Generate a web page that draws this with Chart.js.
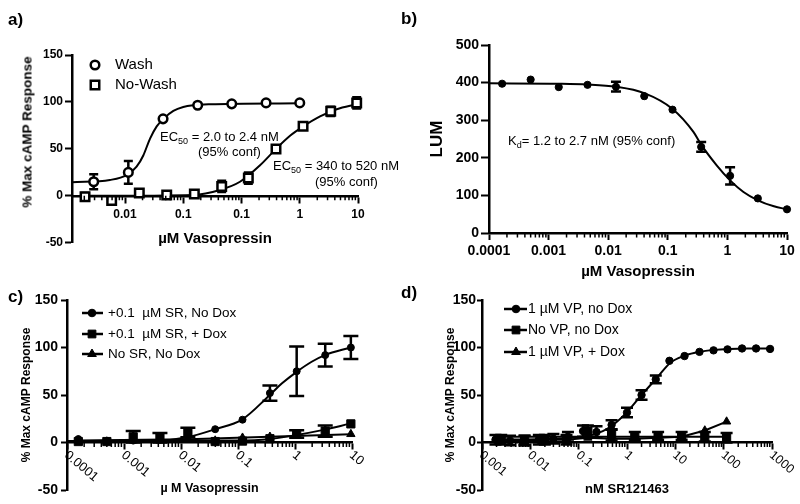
<!DOCTYPE html>
<html>
<head>
<meta charset="utf-8">
<script src="https://cdn.jsdelivr.net/npm/chart.js@4/dist/chart.umd.min.js"></script>
<style>
  body { margin: 0; width: 800px; height: 504px; position: relative; background: #fff; overflow: hidden;
         font-family: "Liberation Sans", Arial, sans-serif; color: #000; }
  canvas { position: absolute; }
  .tag { position: absolute; font-weight: bold; font-size: 17px; line-height: 20px; }
  .note { position: absolute; font-size: 13px; line-height: 16px; white-space: nowrap; }
  .note sub { font-size: 9px; vertical-align: -3px; line-height: 0; }
  .ytitle { position: absolute; font-weight: bold; font-size: 13.5px; white-space: nowrap;
            transform: translate(-50%, -50%) rotate(-90deg); }
</style>
</head>
<body>
<canvas id="pa" width="400" height="252" style="left:0;top:0"></canvas>
<canvas id="pb" width="400" height="281" style="left:400px;top:0"></canvas>
<canvas id="pc" width="400" height="224" style="left:0;top:280px"></canvas>
<canvas id="pd" width="400" height="224" style="left:400px;top:280px"></canvas>

<div class="tag" style="left:8px;top:10px">a)</div>
<div class="tag" style="left:401px;top:9px">b)</div>
<div class="tag" style="left:8px;top:287px">c)</div>
<div class="tag" style="left:401px;top:283px">d)</div>

<div class="ytitle" style="left:27px;top:132px">% Max cAMP Response</div>
<div class="note" style="left:160px;top:129px">EC<sub>50</sub> = 2.0 to 2.4 nM</div>
<div class="note" style="left:198px;top:144px">(95% conf)</div>
<div class="note" style="left:273px;top:158px">EC<sub>50</sub> = 340 to 520 nM</div>
<div class="note" style="left:315px;top:174px">(95% conf)</div>
<div class="note" style="left:508px;top:133px">K<sub>d</sub>= 1.2 to 2.7 nM (95% conf)</div>

<script>
const FONT = '"Liberation Sans", Arial, sans-serif';

// a) cAMP after wash / no wash, x in uM
const aNames = ['Wash', 'No-Wash'];
const washX = [0.00029, 0.00114, 0.0045, 0.0177, 0.068, 0.264, 1];
const washY = [15, 25, 82, 96.5, 98, 99, 99];
const washErr = [8, 12, 0, 0, 0, 0, 0];
const washFitX = [0.000123, 0.00055, 0.00107, 0.00158, 0.00206, 0.00269, 0.0035, 0.00454, 0.00676, 0.01, 0.0149, 0.0288, 1];
const washFitY = [14.4, 16.9, 22, 31, 43, 61, 74, 82, 90.5, 94.7, 96.5, 97.5, 98.6];
const noWashX = [0.000206, 0.00059, 0.00176, 0.0052, 0.0155, 0.0457, 0.131, 0.391, 1.14, 3.4, 9.5];
const noWashY = [-1, -5, 3, 1, 2, 10, 19, 50, 74, 90, 99];
const noWashErr = [4, 4, 0, 0, 0, 6, 6, 0, 0, 5, 6];
const noWashFitX = [0.0002, 0.0149, 0.0428, 0.0942, 0.208, 0.391, 0.681, 1.15, 2.23, 4.31, 9.5];
const noWashFitY = [0, 1, 6.3, 15, 32.6, 50, 64, 74, 84.6, 92.3, 97.6];
const aTicks = [0.001, 0.01, 0.1, 1, 10];
const aTickLabels = ['0.01', '0.1', '0.1', '1', '10'];

// b) LUM binding curve, x in uM
const lumX = [0.000166, 0.0005, 0.00148, 0.0045, 0.0135, 0.0403, 0.12, 0.363, 1.11, 3.24, 10];
const lumY = [397, 408, 388, 394, 389, 364, 328, 229, 152, 92, 63];
const lumErr = [0, 0, 0, 0, 13, 0, 0, 13, 23, 0, 0];
const lumFitX = [0.0001, 0.00148, 0.0045, 0.0135, 0.0403, 0.12, 0.269, 0.363, 0.661, 1.11, 1.86, 3.24, 6.03, 10];
const lumFitY = [398, 397, 395, 389, 372, 330, 269, 235, 180, 140, 109, 87, 71, 63];
const bTicks = [0.0001, 0.001, 0.01, 0.1, 1, 10];
const bTickLabels = ['0.0001', '0.001', '0.01', '0.1', '1', '10'];

// c) SR antagonist +/- Dox, x in uM
const cNames = ['+0.1  \u00b5M SR, No Dox', '+0.1  \u00b5M SR, + Dox', 'No SR, No Dox'];
const cX = [0.000158, 0.0005, 0.00145, 0.00427, 0.0132, 0.0398, 0.12, 0.363, 1.07, 3.39, 9.55];
const srNoDoxY = [3.6, 1.5, 2, 3, 6, 14, 24, 52, 75, 92, 100];
const srNoDoxErr = [0, 0, 0, 0, 0, 0, 0, 8, 26, 12, 12];
const srDoxY = [1, 1, 6, 5, 10.5, 1, 1.5, 4, 9, 12, 19.6];
const srDoxErr = [0, 0, 6, 5, 5, 0, 0, 0, 4, 6, 0];
const noSrY = [2, 1, 2, 2, 3, 2, 5, 6, 7, 8, 8.8];
const srNoDoxFitX = [0.0001, 0.001, 0.00407, 0.0129, 0.0398, 0.117, 0.347, 0.585, 1.07, 1.96, 3.36, 9.48];
const srNoDoxFitY = [1.5, 1.8, 2.1, 5.6, 14, 24, 49, 62, 74.4, 85, 92, 100];
const srDoxFitX = [0.0001, 0.1, 0.347, 1.08, 3.16, 8.9];
const srDoxFitY = [1.5, 2, 3.5, 8, 13.3, 19.6];
const noSrFitX = [0.00016, 0.0135, 9.55];
const noSrFitY = [2, 3.5, 8.8];
const cTicks = [0.0001, 0.001, 0.01, 0.1, 1, 10];
const cTickLabels = ['0.0001', '0.001', '0.01', '0.1', '1', '10'];

// d) SR121463 dose, x in nM
const dNames = ['1 \u00b5M VP, no Dox', 'No VP, no Dox', '1 \u00b5M VP, + Dox'];
const vpX = [0.0019, 0.0038, 0.0076, 0.015, 0.030, 0.060, 0.123, 0.234, 0.48, 1.0, 2.0, 3.94, 7.55, 15.5, 31.6, 61.7, 120, 240, 468, 912];
const vpY = [3, 2, 2, 3, 4, 6, 12, 11, 18.5, 31.5, 50, 66.4, 86, 91, 95.4, 97, 98, 99, 99, 98.5];
const vpErr = [5, 5, 5, 5, 5, 5, 6, 6, 5, 5, 5, 4, 0, 0, 0, 0, 0, 0, 0, 0];
const vpFitX = [0.0019, 0.0316, 0.158, 0.316, 0.5, 1, 2, 4, 7.9, 15.8, 31.6, 63, 126, 316, 912];
const vpFitY = [3, 4, 7, 12, 18, 32, 50, 67, 84, 91.5, 95.5, 97.5, 98.5, 99, 99];
const sX = [0.0025, 0.0076, 0.02, 0.056, 0.155, 0.48, 1.45, 4.4, 13.5, 40.7, 115];
const noVpY = [3, 2, 3, 3, 12, 8, 7, 7, 7, 6, 5];
const noVpErr = [5, 5, 5, 5, 6, 6, 4, 4, 4, 5, 5];
const noVpFitX = [0.0025, 115];
const noVpFitY = [6, 6];
const vpDoxY = [3, 2, 3, 3, 5, 4, 4, 5, 6, 12.6, 22];
const dTicks = [0.001, 0.01, 0.1, 1, 10, 100, 1000];
const dTickLabels = ['0.001', '0.01', '0.1', '1', '10', '100', '1000'];

Chart.defaults.font.family = FONT;
Chart.defaults.color = '#000';

function pts(xs, ys) { return xs.map((x, i) => ({x: x, y: ys[i]})); }

function markSet(xs, ys, errs, style, r, fill, bw, cap) {
  return {data: pts(xs, ys), errors: errs, capWidth: cap, showLine: false,
    pointStyle: style, pointRadius: r, pointHoverRadius: r, pointBackgroundColor: fill,
    pointBorderColor: '#000', pointBorderWidth: bw, clip: false};
}
function fitSet(xs, ys, smooth) {
  return {data: pts(xs, ys), showLine: true, borderColor: '#000', borderWidth: 2,
    pointRadius: 0, cubicInterpolationMode: smooth ? 'monotone' : 'default', tension: 0, clip: false};
}
function lineMarks(xs, ys, style, r) {
  const d = markSet(xs, ys, null, style, r, '#000', 1, 0);
  d.showLine = true; d.borderColor = '#000'; d.borderWidth = 2;
  return d;
}

const errorBars = {
  id: 'errorBars',
  beforeDatasetsDraw(chart) {
    const {ctx, scales: {x, y}} = chart;
    chart.data.datasets.forEach(ds => {
      if (!ds.errors) return;
      ctx.save();
      ctx.strokeStyle = '#000';
      ctx.lineWidth = 2.5;
      ds.data.forEach((p, i) => {
        const e = ds.errors[i];
        if (!e) return;
        const px = x.getPixelForValue(p.x);
        const y1 = y.getPixelForValue(p.y + e), y2 = y.getPixelForValue(p.y - e);
        const w = ds.capWidth / 2;
        ctx.beginPath();
        ctx.moveTo(px, y1); ctx.lineTo(px, y2);
        ctx.moveTo(px - w, y1); ctx.lineTo(px + w, y1);
        ctx.moveTo(px - w, y2); ctx.lineTo(px + w, y2);
        ctx.stroke();
      });
      ctx.restore();
    });
  }
};

function minorTicks(atZero) {
  return {
    id: 'minorTicks',
    afterDraw(chart) {
      const {ctx, scales: {x, y}, chartArea} = chart;
      const axisY = atZero ? y.getPixelForValue(0) : chartArea.bottom;
      ctx.save();
      ctx.strokeStyle = '#000';
      ctx.lineWidth = 1.5;
      ctx.beginPath();
      for (let e = Math.floor(Math.log10(x.min)); e <= Math.ceil(Math.log10(x.max)); e++) {
        for (let k = 2; k <= 9; k++) {
          const v = k * Math.pow(10, e);
          if (v <= x.min * 1.0001 || v >= x.max * 0.9999) continue;
          const px = x.getPixelForValue(v);
          ctx.moveTo(px, axisY); ctx.lineTo(px, axisY + 4.5);
        }
      }
      ctx.stroke();
      ctx.restore();
    }
  };
}

function slantLabels(values, labels, size) {
  return {
    id: 'slantLabels',
    afterDraw(chart) {
      const {ctx, scales: {x, y}} = chart;
      const axisY = y.getPixelForValue(0);
      ctx.save();
      ctx.font = size + 'px ' + FONT;
      ctx.fillStyle = '#000';
      ctx.textAlign = 'left';
      ctx.textBaseline = 'middle';
      values.forEach((v, i) => {
        ctx.save();
        ctx.translate(x.getPixelForValue(v) - 1, axisY + 11);
        ctx.rotate(40 * Math.PI / 180);
        ctx.fillText(labels[i], 0, 0);
        ctx.restore();
      });
      ctx.restore();
    }
  };
}

function keyPlugin(names, marks, layout) {
  return {
    id: 'key',
    afterDraw(chart) {
      const ctx = chart.ctx;
      ctx.save();
      ctx.font = layout.font + 'px ' + FONT;
      ctx.textBaseline = 'middle';
      ctx.strokeStyle = '#000';
      names.forEach((name, i) => {
        const yy = layout.rows[i];
        const m = marks[i];
        if (layout.line) {
          ctx.lineWidth = 2.5;
          ctx.beginPath();
          ctx.moveTo(layout.line[0], yy); ctx.lineTo(layout.line[1], yy);
          ctx.stroke();
        }
        ctx.fillStyle = m.fill;
        ctx.lineWidth = m.bw;
        Chart.helpers.drawPoint(ctx, {pointStyle: m.style, radius: m.r, borderWidth: m.bw, rotation: 0}, layout.markX, yy);
        ctx.fillStyle = '#000';
        ctx.fillText(name, layout.textX, yy);
      });
      ctx.restore();
    }
  };
}

function logX(min, max, ticks, labels, opts) {
  return Object.assign({
    type: 'logarithmic', min: min, max: max,
    afterBuildTicks: s => { s.ticks = ticks.map(v => ({value: v})); },
    ticks: {autoSkip: false, maxRotation: 0, minRotation: 0, padding: 6, color: '#000',
      font: {size: 12, weight: 'bold'}, callback: (v, i) => labels[i]},
    grid: {drawOnChartArea: false, color: '#000', tickLength: 6, tickWidth: 2},
    border: {color: '#000', width: 2.5}
  }, opts);
}
function linY(min, max, step, width, opts) {
  return Object.assign({
    min: min, max: max,
    ticks: {stepSize: step, padding: 2, color: '#000', font: {size: 14, weight: 'bold'}},
    grid: {drawOnChartArea: false, color: '#000', tickLength: 7, tickWidth: 2},
    border: {color: '#000', width: 2.5},
    afterFit: s => { s.width = width; }
  }, opts);
}
const base = {responsive: false, animation: false, events: [],
  plugins: {legend: {display: false}, tooltip: {enabled: false}}};

// ---- a)
new Chart(document.getElementById('pa'), {
  type: 'scatter',
  data: {datasets: [
    markSet(washX, washY, washErr, 'circle', 4.3, '#fff', 2.5, 9),
    markSet(noWashX, noWashY, noWashErr, 'rect', 6, '#fff', 2.5, 9),
    fitSet(washFitX, washFitY, true),
    fitSet(noWashFitX, noWashFitY, true)
  ]},
  options: Object.assign({}, base, {
    layout: {padding: {left: 0, top: 55, right: 42, bottom: 7}},
    scales: {
      x: logX(0.000123, 10, aTicks, aTickLabels, {
        position: {y: 0},
        title: {display: true, text: '\u00b5M Vasopressin', color: '#000',
          font: {size: 15, weight: 'bold'}, padding: {top: 2, bottom: 0}}
      }),
      y: linY(-50, 150, 50, 72, {
        ticks: {stepSize: 50, padding: 2, color: '#000', font: {size: 12, weight: 'bold'}}
      })
    }
  }),
  plugins: [errorBars, minorTicks(true),
    keyPlugin(aNames, [{style: 'circle', r: 4.3, fill: '#fff', bw: 2.5}, {style: 'rect', r: 6, fill: '#fff', bw: 2.5}],
      {font: 15, rows: [65, 85], markX: 95, textX: 115})]
});

// ---- b)
new Chart(document.getElementById('pb'), {
  type: 'scatter',
  data: {datasets: [
    markSet(lumX, lumY, lumErr, 'circle', 3.6, '#000', 1, 10),
    fitSet(lumFitX, lumFitY, true)
  ]},
  options: Object.assign({}, base, {
    layout: {padding: {left: 0, top: 45, right: 13, bottom: 0}},
    scales: {
      x: logX(0.0001, 10, bTicks, bTickLabels, {
        position: 'bottom',
        afterFit: s => { s.height = 48; },
        ticks: {autoSkip: false, maxRotation: 0, minRotation: 0, padding: 3, color: '#000',
          font: {size: 14, weight: 'bold'}, callback: (v, i) => bTickLabels[i]},
        grid: {drawOnChartArea: false, color: '#000', tickLength: 7, tickWidth: 2},
        title: {display: true, text: '\u00b5M Vasopressin', color: '#000',
          font: {size: 15, weight: 'bold'}, padding: {top: 0, bottom: 0}}
      }),
      y: linY(0, 500, 100, 89, {
        ticks: {stepSize: 100, padding: 2, color: '#000', font: {size: 14, weight: 'bold'}},
        grid: {drawOnChartArea: false, color: '#000', tickLength: 8, tickWidth: 2},
        title: {display: true, text: 'LUM', color: '#000', font: {size: 17, weight: 'bold'}, padding: {top: 27, bottom: 0}}
      })
    }
  }),
  plugins: [errorBars, minorTicks(false)]
});

// ---- c)
new Chart(document.getElementById('pc'), {
  type: 'scatter',
  data: {datasets: [
    markSet(cX, srNoDoxY, srNoDoxErr, 'circle', 3.5, '#000', 1, 15),
    markSet(cX, srDoxY, srDoxErr, 'rect', 5.8, '#000', 1, 15),
    markSet(cX, noSrY, null, 'triangle', 4.8, '#000', 1, 0),
    fitSet(srNoDoxFitX, srNoDoxFitY, true),
    fitSet(srDoxFitX, srDoxFitY, true),
    fitSet(noSrFitX, noSrFitY, false)
  ]},
  options: Object.assign({}, base, {
    layout: {padding: {left: 0, top: 20, right: 48, bottom: 14}},
    scales: {
      x: logX(0.0001, 10, cTicks, cTickLabels, {
        position: {y: 0},
        ticks: {display: false},
        title: {display: true, text: '\u00b5 M Vasopressin', color: '#000',
          font: {size: 12.5, weight: 'bold'}, padding: {top: 33, bottom: 0}}
      }),
      y: linY(-50, 150, 50, 67, {
        grid: {drawOnChartArea: false, color: '#000', tickLength: 6, tickWidth: 2},
        ticks: {stepSize: 50, padding: 3, color: '#000', font: {size: 14, weight: 'bold'}},
        title: {display: true, text: '% Max cAMP Response', color: '#000', font: {size: 12, weight: 'bold'}, padding: {top: 19, bottom: 0}}
      })
    }
  }),
  plugins: [errorBars, minorTicks(true), slantLabels(cTicks, cTickLabels, 13),
    keyPlugin(cNames, [{style: 'circle', r: 3.8, fill: '#000', bw: 1}, {style: 'rect', r: 5.5, fill: '#000', bw: 1}, {style: 'triangle', r: 5, fill: '#000', bw: 1}],
      {font: 13.5, rows: [33, 54, 74], line: [82, 103], markX: 92, textX: 108})]
});

// ---- d)
new Chart(document.getElementById('pd'), {
  type: 'scatter',
  data: {datasets: [
    markSet(vpX, vpY, vpErr, 'circle', 3.7, '#000', 1, 12),
    markSet(sX, noVpY, noVpErr, 'rect', 5.8, '#000', 1, 12),
    lineMarks(sX, vpDoxY, 'triangle', 4.8),
    fitSet(vpFitX, vpFitY, true),
    fitSet(noVpFitX, noVpFitY, false)
  ]},
  options: Object.assign({}, base, {
    layout: {padding: {left: 0, top: 20, right: 28, bottom: 14}},
    scales: {
      x: logX(0.001, 1000, dTicks, dTickLabels, {
        position: {y: 0},
        ticks: {display: false},
        title: {display: true, text: 'nM SR121463', color: '#000',
          font: {size: 13, weight: 'bold'}, padding: {top: 33, bottom: 0}}
      }),
      y: linY(-50, 150, 50, 82, {
        grid: {drawOnChartArea: false, color: '#000', tickLength: 5, tickWidth: 2},
        ticks: {stepSize: 50, padding: 1, color: '#000', font: {size: 14, weight: 'bold'}},
        title: {display: true, text: '% Max cAMP Response', color: '#000', font: {size: 12, weight: 'bold'}, padding: {top: 43, bottom: 0}}
      })
    }
  }),
  plugins: [errorBars, minorTicks(true), slantLabels(dTicks, dTickLabels, 12.5),
    keyPlugin(dNames, [{style: 'circle', r: 3.8, fill: '#000', bw: 1}, {style: 'rect', r: 5.5, fill: '#000', bw: 1}, {style: 'triangle', r: 5, fill: '#000', bw: 1}],
      {font: 14, rows: [29, 50, 72], line: [104, 127], markX: 116, textX: 128})]
});
</script>
</body>
</html>
